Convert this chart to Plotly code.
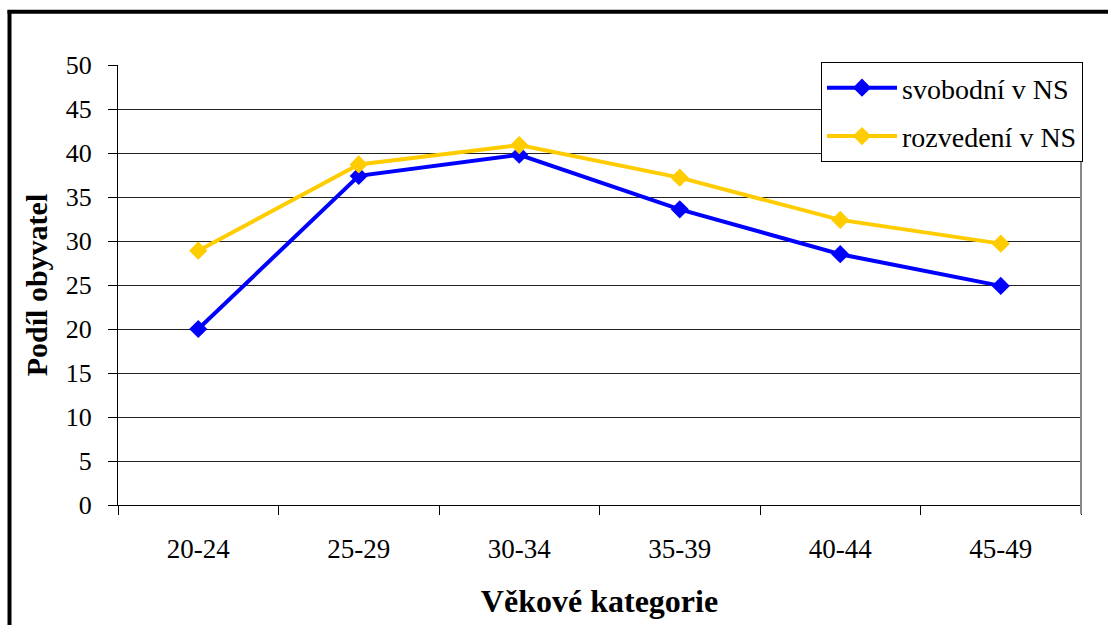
import plotly.graph_objects as go

categories = ["20-24", "25-29", "30-34", "35-39", "40-44", "45-49"]
svobodni = [20.0, 37.4, 39.8, 33.6, 28.5, 24.9]
rozvedeni = [28.9, 38.7, 40.9, 37.2, 32.4, 29.7]
y_ticks = [0, 5, 10, 15, 20, 25, 30, 35, 40, 45, 50]

FONT = "Liberation Serif"

fig = go.Figure()
fig.add_trace(go.Scatter(
    x=categories, y=svobodni, name="svobodní v NS", mode="lines+markers",
    legendgroup="a",
    line=dict(color="#0000FF", width=4),
    marker=dict(symbol="diamond", size=14, color="#0000FF"),
))
fig.add_trace(go.Scatter(
    x=categories, y=rozvedeni, name="rozvedení v NS", mode="lines+markers",
    legendgroup="b",
    line=dict(color="#FFCC00", width=4),
    marker=dict(symbol="diamond", size=14, color="#FFCC00"),
))

L, R, T, B = 118, 27, 65, 118
W, H = 1108, 625
pw, ph = W - L - R, H - T - B

def px(x):
    return (x - L) / pw

def py(y):
    return (H - B - y) / ph

fig.update_layout(
    width=W, height=H,
    margin=dict(l=L, r=R, t=T, b=B),
    paper_bgcolor="white", plot_bgcolor="white",
    font=dict(family=FONT, size=26, color="black"),
    showlegend=True,
    legend=dict(
        x=px(1083), y=py(62), xanchor="right", yanchor="top",
        bgcolor="white", bordercolor="black", borderwidth=1,
        font=dict(family=FONT, size=28, color="black"),
        tracegroupgap=9, itemwidth=70,
    ),
    xaxis=dict(
        type="category", range=[-0.5, 5.5],
        showgrid=False, showline=True, linecolor="black", linewidth=1,
        ticks="outside", tickson="boundaries", ticklen=9, tickcolor="black",
        tickfont=dict(family=FONT, size=27, color="black"),
        ticklabelstandoff=20,
        title=dict(text="<b>Věkové kategorie</b>", font=dict(family=FONT, size=32), standoff=26),
    ),
    yaxis=dict(
        range=[0, 50], tickvals=y_ticks,
        showgrid=True, gridcolor="#222222", gridwidth=1,
        showline=True, linecolor="black", linewidth=1,
        ticks="outside", ticklen=9, tickcolor="black",
        tickfont=dict(family=FONT, size=26, color="black"),
        ticklabelstandoff=11,
        title=dict(text="<b>Podíl obyvatel</b>", font=dict(family=FONT, size=30), standoff=9),
        zeroline=False,
    ),
    shapes=[
        dict(type="line", xref="paper", yref="paper",
             x0=px(9.5), x1=px(9.5), y0=py(10), y1=py(660),
             line=dict(color="black", width=4)),
        dict(type="line", xref="paper", yref="paper",
             x0=px(7.5), x1=px(1130), y0=py(11.5), y1=py(11.5),
             line=dict(color="black", width=4)),
        dict(type="line", xref="paper", yref="paper",
             x0=1, x1=1, y0=py(516), y1=1,
             line=dict(color="#888888", width=2)),
    ],
)

fig.write_html("out.html", config={"displayModeBar": False})

with open("out.html", "r", encoding="utf-8") as f:
    html = f.read()
html = html.replace("<head>", "<head><style>html,body{margin:0;padding:0;overflow:hidden;}</style>", 1)
with open("out.html", "w", encoding="utf-8") as f:
    f.write(html)
